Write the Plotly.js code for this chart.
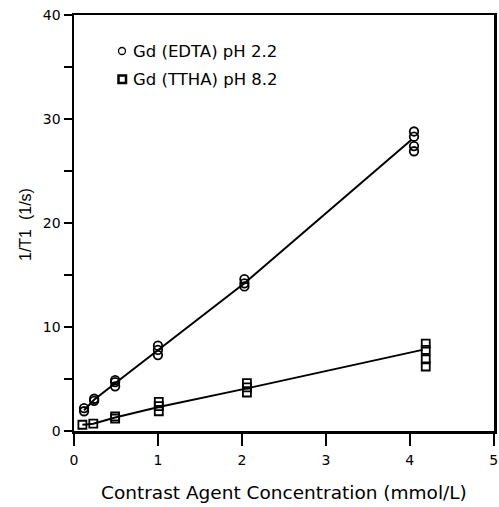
<!DOCTYPE html>
<html>
<head>
<meta charset="utf-8">
<script src="https://cdn.plot.ly/plotly-3.0.1.min.js"></script>
<style>html,body{margin:0;padding:0;background:#fff;}#chart{width:499px;height:507px;}</style>
</head>
<body>
<div id="chart"></div>
<script>
// EDTA (pH 2.2) measured points
const edtaX = [0.12, 0.12, 0.24, 0.24, 0.49, 0.49, 0.49, 1.0, 1.0, 1.0, 2.03, 2.03, 2.03, 4.05, 4.05, 4.05, 4.05];
const edtaY = [1.9, 2.2, 2.9, 3.1, 4.3, 4.7, 4.9, 7.3, 7.8, 8.2, 13.9, 14.2, 14.6, 26.9, 27.4, 28.3, 28.8];
// EDTA connecting line
const edtaLineX = [0.12, 0.24, 0.49, 1.0, 2.03, 4.02];
const edtaLineY = [2.0, 3.0, 4.6, 7.8, 14.2, 28.0];
// TTHA (pH 8.2) measured points
const tthaX = [0.1, 0.23, 0.49, 0.49, 1.01, 1.01, 1.01, 2.06, 2.06, 2.06, 4.19, 4.19, 4.19, 4.19];
const tthaY = [0.6, 0.7, 1.2, 1.4, 1.9, 2.4, 2.8, 3.7, 4.2, 4.6, 6.2, 6.9, 7.8, 8.4];
// TTHA connecting line
const tthaLineX = [0.1, 0.23, 0.49, 1.01, 2.06, 4.15];
const tthaLineY = [0.6, 0.7, 1.3, 2.3, 4.1, 7.8];

const xTicks = [0, 1, 2, 3, 4, 5];
const yTicks = [0, 10, 20, 30, 40];
const legendLabels = ['Gd (EDTA) pH 2.2', 'Gd (TTHA) pH 8.2'];
const xTitle = 'Contrast Agent Concentration (mmol/L)';
const yTitle = '1/T1\u00a0\u00a0(1/s)';

const FONT = 'DejaVu Sans, Liberation Sans, Arial, sans-serif';
const FONT2 = 'Liberation Sans, Arial, Helvetica, sans-serif';

const traces = [
  {x: edtaLineX, y: edtaLineY, mode: 'lines', line: {color: '#000', width: 2}, hoverinfo: 'skip'},
  {x: tthaLineX, y: tthaLineY, mode: 'lines', line: {color: '#000', width: 2}, hoverinfo: 'skip'},
  {x: edtaX, y: edtaY, mode: 'markers', marker: {symbol: 'circle-open', size: 8.5, color: '#000', line: {width: 1.8, color: '#000'}}},
  {x: tthaX, y: tthaY, mode: 'markers', marker: {symbol: 'square-open', size: 8, color: '#000', line: {width: 1.8, color: '#000'}}}
];

const L = 74, R = 5, T = 15, B = 76, W = 499, H = 507;
const pw = W - L - R, ph = H - T - B;
const px = v => (v - L) / pw;
const py = v => (H - B - v) / ph;

const layout = {
  width: W, height: H,
  margin: {l: L, r: R, t: T, b: B},
  paper_bgcolor: '#fff', plot_bgcolor: '#fff',
  showlegend: false,
  font: {family: FONT, color: '#000', size: 14},
  xaxis: {
    range: [0, 5.003], tickvals: xTicks, ticktext: xTicks.map(String),
    ticks: 'outside', ticklen: 12, tickwidth: 2, tickcolor: '#000',
    ticklabelstandoff: 3, ticklabeloverflow: 'allow',
    showline: true, linewidth: 2.5, linecolor: '#000', mirror: true,
    showgrid: false, zeroline: false,
    tickfont: {family: FONT, size: 14, color: '#000'}
  },
  yaxis: {
    range: [0, 40], tickvals: yTicks, ticktext: yTicks.map(String),
    ticks: 'outside', ticklen: 8, tickwidth: 2, tickcolor: '#000',
    ticklabeloverflow: 'allow',
    minor: {dtick: 5, tick0: 0, ticks: 'outside', ticklen: 8, tickwidth: 1.5, tickcolor: '#000'},
    showline: true, linewidth: 2.5, linecolor: '#000', mirror: true,
    showgrid: false, zeroline: false,
    tickfont: {family: FONT, size: 14, color: '#000'}
  },
  shapes: [
    {type: 'circle', xref: 'paper', yref: 'paper', x0: px(118.5), x1: px(125.5), y0: py(54.5), y1: py(47.5), line: {color: '#000', width: 1.3}},
    {type: 'rect', xref: 'paper', yref: 'paper', x0: px(118.5), x1: px(126), y0: py(83), y1: py(75.5), line: {color: '#000', width: 2.5}}
  ],
  annotations: [
    {text: legendLabels[0], xref: 'paper', yref: 'paper', x: px(131), y: py(51), xanchor: 'left', yanchor: 'middle', showarrow: false, font: {family: FONT, size: 16.5, color: '#000'}},
    {text: legendLabels[1], xref: 'paper', yref: 'paper', x: px(131), y: py(79), xanchor: 'left', yanchor: 'middle', showarrow: false, font: {family: FONT, size: 16.5, color: '#000'}},
    {text: xTitle, xref: 'paper', yref: 'paper', x: px(284), y: py(493), xanchor: 'center', yanchor: 'middle', showarrow: false, font: {family: FONT, size: 18.5, color: '#000'}},
    {text: yTitle, xref: 'paper', yref: 'paper', x: px(25), y: py(225), xanchor: 'center', yanchor: 'middle', textangle: -90, showarrow: false, font: {family: FONT2, size: 16, color: '#000'}}
  ]
};

Plotly.newPlot('chart', traces, layout, {staticPlot: true, displayModeBar: false});
</script>
</body>
</html>
